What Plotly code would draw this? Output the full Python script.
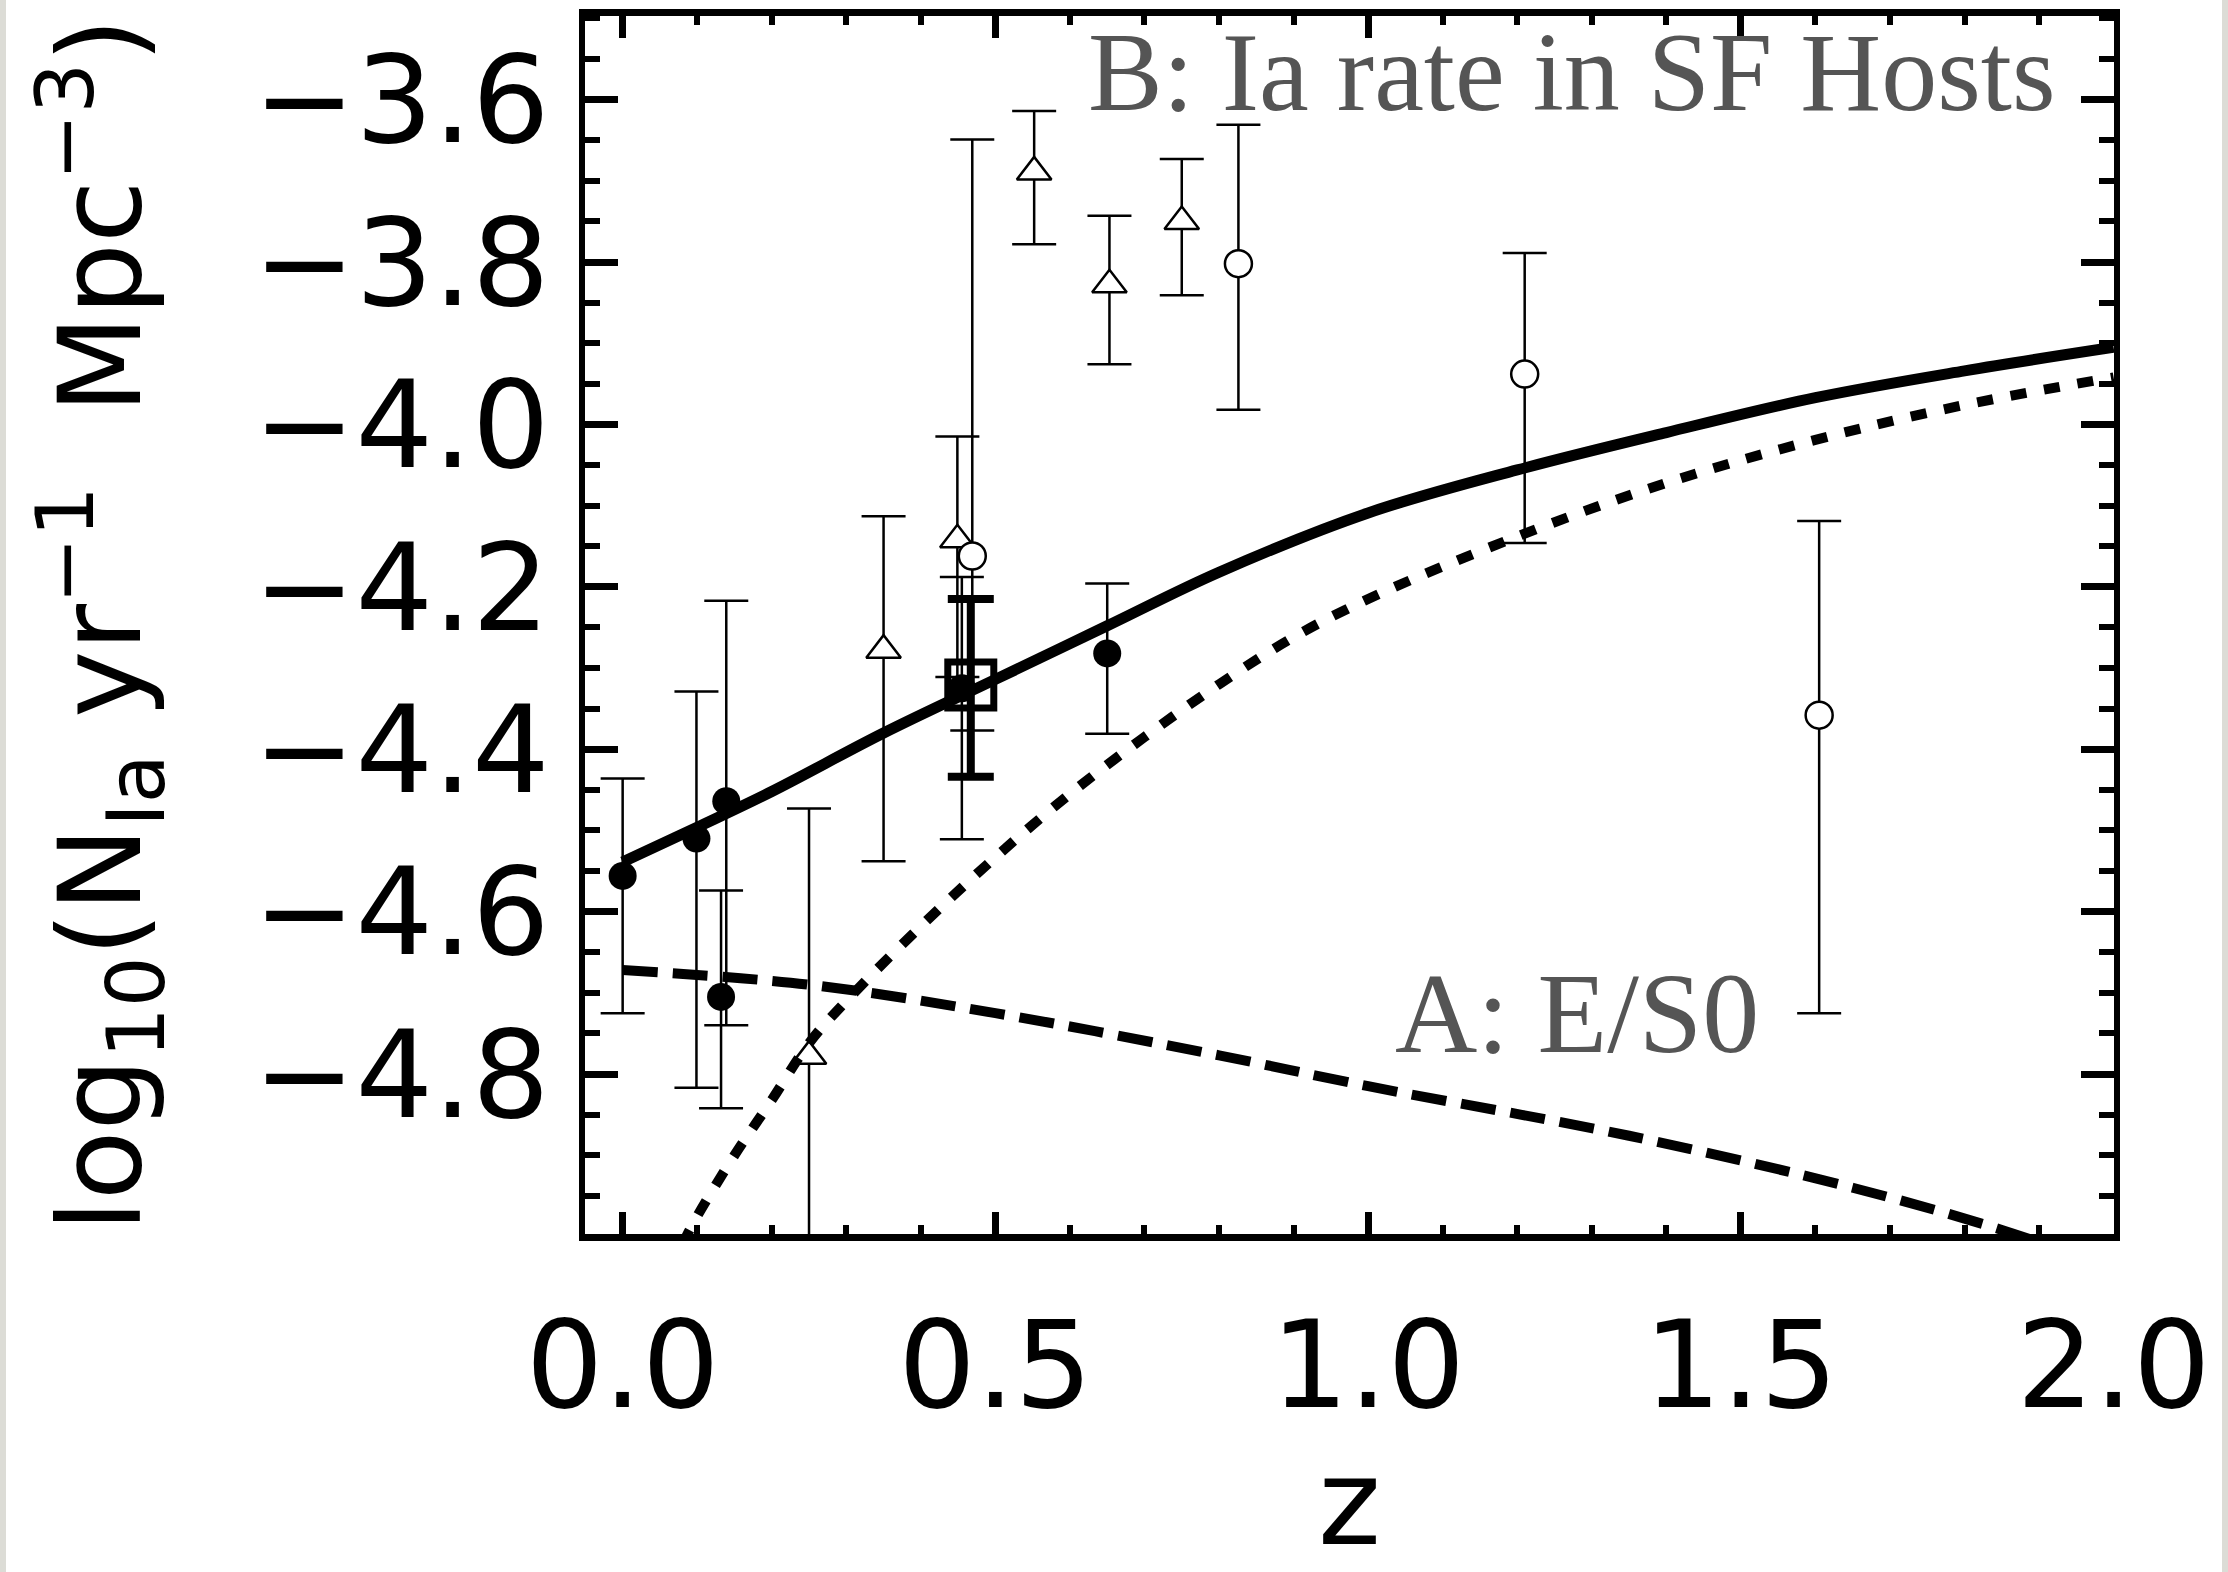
import plotly.graph_objects as go

# ---------------- data ----------------
# filled circles
fc_z = [0.0, 0.099, 0.139, 0.132, 0.455, 0.65]
fc_y = [-4.556, -4.510, -4.464, -4.705, -4.325, -4.282]
fc_hi = [-4.436, -4.329, -4.217, -4.574, -4.188, -4.196]
fc_lo = [-4.725, -4.817, -4.740, -4.842, -4.511, -4.381]

# open triangles
tr_z = [0.25, 0.35, 0.449, 0.552, 0.653, 0.75]
tr_y = [-4.778, -4.278, -4.142, -3.689, -3.828, -3.750]
tr_hi = [-4.473, -4.113, -4.015, -3.614, -3.743, -3.673]
tr_lo = [-5.30, -4.538, -4.311, -3.778, -3.926, -3.841]

# open circles
oc_z = [0.469, 0.826, 1.210, 1.605]
oc_y = [-4.162, -3.802, -3.938, -4.358]
oc_hi = [-3.649, -3.631, -3.789, -4.119]
oc_lo = [-4.377, -3.982, -4.146, -4.725]

# open square (thick error bar)
sq_z = [0.467]
sq_y = [-4.321]
sq_hi = [-4.215]
sq_lo = [-4.434]

# model curves
solid_z = [0.0, 0.1, 0.2, 0.35, 0.5, 0.65, 0.8, 1.0, 1.2, 1.4, 1.6, 1.8, 2.0]
solid_y = [-4.539, -4.496, -4.452, -4.380, -4.314, -4.248, -4.182, -4.109,
           -4.056, -4.010, -3.967, -3.934, -3.905]

dot_z = [0.08, 0.1, 0.15, 0.2, 0.25, 0.3, 0.4, 0.5, 0.6, 0.7, 0.8, 0.9, 1.0,
         1.2, 1.4, 1.6, 1.8, 2.0]
dot_y = [-5.01, -4.975, -4.90, -4.832, -4.762, -4.710, -4.618, -4.533, -4.455,
         -4.385, -4.320, -4.262, -4.215, -4.138, -4.072, -4.019, -3.976, -3.942]

dash_z = [0.0, 0.25, 0.5, 0.8, 1.0, 1.35, 1.65, 1.85, 2.0]
dash_y = [-4.672, -4.690, -4.725, -4.777, -4.815, -4.876, -4.940, -4.992, -5.04]

x_ticks = [0.0, 0.5, 1.0, 1.5, 2.0]
y_ticks = [-3.6, -3.8, -4.0, -4.2, -4.4, -4.6, -4.8]

label_B = "B: Ia rate in SF Hosts"
label_A = "A: E/S0"


def up(y, hi):
    return [h - v for v, h in zip(y, hi)]


def down(y, lo):
    return [v - l for v, l in zip(y, lo)]


fig = go.Figure()

thin = dict(type="data", symmetric=False, color="black", thickness=2.5, width=22)

fig.add_trace(go.Scatter(
    x=tr_z, y=tr_y, mode="markers", name="triangles",
    marker=dict(symbol="triangle-up", size=30, color="white",
                line=dict(color="black", width=2.5)),
    error_y=dict(array=up(tr_y, tr_hi), arrayminus=down(tr_y, tr_lo), **thin),
))
fig.add_trace(go.Scatter(
    x=oc_z, y=oc_y, mode="markers", name="open circles",
    marker=dict(symbol="circle", size=27, color="white",
                line=dict(color="black", width=2.5)),
    error_y=dict(array=up(oc_y, oc_hi), arrayminus=down(oc_y, oc_lo), **thin),
))
fig.add_trace(go.Scatter(
    x=fc_z, y=fc_y, mode="markers", name="filled circles",
    marker=dict(symbol="circle", size=28, color="black"),
    error_y=dict(array=up(fc_y, fc_hi), arrayminus=down(fc_y, fc_lo), **thin),
))
fig.add_trace(go.Scatter(
    x=sq_z, y=sq_y, mode="markers", name="square",
    marker=dict(symbol="square-open", size=46, color="black",
                line=dict(color="black", width=7)),
    error_y=dict(type="data", symmetric=False, array=up(sq_y, sq_hi),
                 arrayminus=down(sq_y, sq_lo), color="black",
                 thickness=8, width=23),
))

fig.add_trace(go.Scatter(x=solid_z, y=solid_y, mode="lines", name="total",
                         line=dict(color="black", width=11, shape="spline")))
fig.add_trace(go.Scatter(x=dot_z, y=dot_y, mode="lines", name="B",
                         line=dict(color="black", width=10, dash="16px,18px",
                                   shape="spline")))
fig.add_trace(go.Scatter(x=dash_z, y=dash_y, mode="lines", name="A",
                         line=dict(color="black", width=10, dash="35px,15px",
                                   shape="spline")))

tick_font = dict(family="DejaVu Sans", size=122, color="black")

fig.update_layout(
    width=2228, height=1572, autosize=False,
    margin=dict(l=585, r=114, t=16, b=338, pad=0),
    paper_bgcolor="white", plot_bgcolor="white",
    showlegend=False,
    xaxis=dict(
        range=[-0.0505, 2.0005], tickvals=x_ticks, tickformat=".1f",
        automargin=False,
        ticks="inside", ticklen=22, tickwidth=7, tickcolor="black",
        minor=dict(dtick=0.1, tick0=0, ticks="inside", ticklen=9,
                   tickwidth=6, tickcolor="black", showgrid=False),
        showline=True, linewidth=7, linecolor="black", mirror="allticks",
        showgrid=False, zeroline=False,
        tickfont=tick_font, ticklabelstandoff=20,
        title=dict(text="z", font=dict(family="DejaVu Sans", size=120,
                                       color="black"), standoff=60),
    ),
    yaxis=dict(
        range=[-4.997, -3.497], tickvals=y_ticks, tickformat=".1f",
        automargin=False,
        ticks="inside", ticklen=33, tickwidth=7, tickcolor="black",
        minor=dict(dtick=0.05, tick0=-3.6, ticks="inside", ticklen=15,
                   tickwidth=6, tickcolor="black", showgrid=False),
        showline=True, linewidth=6, linecolor="black", mirror="allticks",
        showgrid=False, zeroline=False,
        tickfont=tick_font, ticklabelstandoff=5,
        title=dict(text="log<sub>10</sub>(N<sub>Ia</sub> yr<sup>−1</sup>  Mpc<sup>−3</sup>)",
                   font=dict(family="DejaVu Sans", size=114, color="black"),
                   standoff=76),
    ),
    annotations=[
        dict(x=1.926, y=-3.566, xref="x", yref="y", text=label_B,
             showarrow=False, xanchor="right", yanchor="middle",
             font=dict(family="Liberation Serif", size=112, color="#555555")),
        dict(x=1.2795, y=-4.725, xref="x", yref="y", text=label_A,
             showarrow=False, xanchor="center", yanchor="middle",
             font=dict(family="Liberation Serif", size=114, color="#555555")),
    ],
    shapes=[
        dict(type="rect", xref="paper", yref="paper",
             x0=-585 / 1529, x1=-579 / 1529, y0=-338 / 1218, y1=1 + 16 / 1218,
             fillcolor="#dcdcd6", line=dict(width=0), layer="above"),
        dict(type="rect", xref="paper", yref="paper",
             x0=1 + 108 / 1529, x1=1 + 114 / 1529, y0=-338 / 1218, y1=1 + 16 / 1218,
             fillcolor="#dcdcd6", line=dict(width=0), layer="above"),
    ],
)

fig.write_html("out.html")
